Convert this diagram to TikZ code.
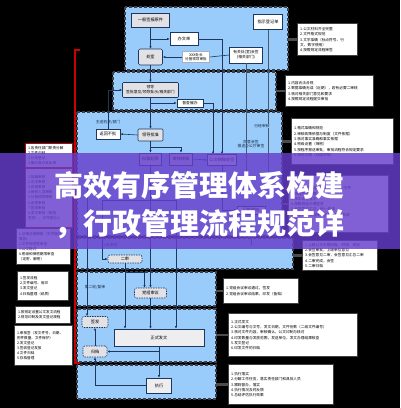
\documentclass[tikz,border=0pt]{standalone}
\usepackage{fontspec}
\newfontfamily\cjk{Noto Sans CJK SC}
\usetikzlibrary{arrows.meta,calc}
\definecolor{pblue}{RGB}{153,204,250}
\definecolor{pedge}{RGB}{58,64,76}
\definecolor{navy}{RGB}{30,55,95}
\definecolor{gfill}{RGB}{226,226,230}
\definecolor{band}{RGB}{102,62,204}
\begin{document}
\begin{tikzpicture}[x=1pt,y=-1pt,
 panel/.style={fill=pblue,draw=pedge,dash pattern=on 3pt off 2pt,line width=1.4pt},
 gbox/.style={draw=navy,fill=gfill,line width=0.6pt,inner sep=0.5pt,align=center,font=\cjk\fontsize{4.2}{5.2}\selectfont},
 wbox/.style={gbox,fill=white},
 rbox/.style={gbox,rounded corners=2pt,dash pattern=on 1.5pt off 1pt},
 lab/.style={inner sep=0.5pt,align=center,font=\cjk\fontsize{3.8}{4.8}\selectfont,text=navy!70!black},
 note/.style={draw=black!75,fill=white,line width=1.4pt,anchor=north west,align=left,inner sep=2.5pt,font=\cjk\fontsize{3.7}{5.3}\selectfont},
 lnote/.style={note,line width=1pt,font=\cjk\fontsize{3.6}{5.1}\selectfont},
 ln/.style={draw=navy,line width=0.6pt},
 arr/.style={ln,-{Latex[length=2.5pt,width=2.2pt]}},
 gl/.style={draw=navy!55!gray,line width=0.5pt},
 link/.style={draw=black!70,line width=2.5pt},
 banner/.style={text=white,inner sep=0,font=\cjk\bfseries\fontsize{29}{29}\selectfont},
]
\useasboundingbox (0,0) rectangle (400,408);
\fill[black] (0,0) rectangle (400,408);

% panels
\draw[panel] (125,7) rectangle (288,70);
\draw[panel] (113,72) rectangle (276,110);
\draw[panel] (77,112) rectangle (282,236);
\draw[panel] (77,238) rectangle (293,269);
\draw[panel] (77,272) rectangle (216,306);
\draw[panel] (77,309) rectangle (216,362);
\draw[panel] (77,365) rectangle (216,399);

% red line
\draw[red!80!black,line width=1.8pt] (80,50) -- (75,50) -- (75,363) -- (80,363);

% panel 1
\node[gbox,minimum width=38pt,minimum height=14pt] (ybqb) at (150.5,20) {一般签报原件};
\node[wbox,minimum width=28pt,minimum height=13pt] (bwd) at (184,39) {办文单};
\node[gbox,rounded corners=1.5pt,minimum width=24pt,minimum height=16pt] (cs) at (150.5,57) {处室};
\node[wbox,draw=navy!40,minimum width=27pt,minimum height=11pt,font=\cjk\fontsize{3.6}{4.4}\selectfont] (sp) at (196,57) {XXX处长\\分管领导审批};
\node[wbox,minimum width=33pt,minimum height=16pt,font=\cjk\fontsize{3.8}{4.8}\selectfont] (ygc) at (246,55) {有关处(室)会签\\(相关部门)};
\node[wbox,minimum width=29pt,minimum height=15pt] (zs) at (268,22) {指示登记单};

% panel 2
\node[gbox,rounded corners=1pt,minimum width=56pt,minimum height=15pt,font=\cjk\fontsize{3.8}{4.8}\selectfont] (ld) at (150.5,90) {领导\\签批意见/领导批示/相关部门};
\node[wbox,minimum width=26pt,minimum height=8pt,font=\cjk\fontsize{3.8}{4.6}\selectfont] (dc) at (190,103) {督查催办};

% panel 3
\node[lab] (zsjg) at (108,122) {主送机关/部门};
\node[wbox,minimum width=24pt,minimum height=10pt] (fh) at (108,134) {返回不批};
\node[gbox,rounded corners=1pt,minimum width=25pt,minimum height=12pt] (ldpz) at (150.5,135) {领导批准};
\node[gbox,minimum width=22pt,minimum height=12pt] (ng) at (150.5,159) {拟稿起草};
\node[gbox,minimum width=23pt,minimum height=12pt] (sh) at (181,159) {审核核稿};
\node[wbox,minimum width=29pt,minimum height=11pt] (hq) at (222,160) {公文核稿会签};
\node[lab] (tyhq) at (251,144) {同意会签\\报送办公厅审签};
\node[wbox,minimum width=28pt,minimum height=8pt] (yz) at (251,210) {印制审核};

% panel 4
\node[lab] (sjdw) at (110,245) {上级单位};
\node[rbox,minimum width=34pt,minimum height=8pt] (es) at (125,259) {二审};

% panel 5
\node[lab] (del) at (95,287) {第二轮/复审};
\node[rbox,minimum width=32pt,minimum height=10pt] (dz) at (150.5,293) {党组审议};

% panel 6
\node[rbox,minimum width=26pt,minimum height=11pt] (qf) at (95,322) {签发};
\node[gbox,fill=gfill!60,minimum width=90pt,minimum height=17pt] (zsfw) at (159,337.5) {正式发文};
\node[rbox,minimum width=24pt,minimum height=11pt] (gd) at (95,351.5) {归档};

% panel 7
\node[gbox,fill=gfill!60,minimum width=25pt,minimum height=15pt] (zx) at (159,385.5) {执行};

% connectors
\draw[arr] (ybqb) -- (cs);
\coordinate (c1) at (150.5,39);
\draw[arr] (c1) -- (bwd.west);
\draw[arr] (sp.west) -- (cs.east);
\draw[ln] (ygc.west) -- (sp.east);
\draw[arr] (cs) -- (ld);
\draw[arr] (ld) -- (ldpz);
\coordinate (c2) at (150.5,103);
\draw[arr] (c2) -- (dc.west);
\draw[arr] (fh.north) |- (ld.west);
\draw[arr] (ldpz.west) -- (fh.east);
\draw[arr] (ldpz) -- (ng);
\coordinate (c3) at (150.5,147);
\draw[arr] (c3) -| (sh.north);
\draw[arr] (sh.east) -- (hq.west);
\draw[arr] (bwd.east) -| (hq.north);
\draw[arr] (dc.east) -| ([xshift=-9pt]hq.north);
\coordinate (z1) at (268,172);
\draw[gl] (zs.south) -- (z1);
\node[lab,fill=pblue] (yjsh) at (262,126) {已经审核};
\coordinate (z2) at (246,172);
\draw[gl] (ygc.south) -- (z2);
\draw[arr] (hq.south) |- (yz.west);
\coordinate (z3) at (251,245);
\draw[gl] (yz.south) -- (z3);

\coordinate (h1) at (102,200);
\coordinate (h2) at (176,200);
\coordinate (a1) at (87,175);
\draw[ln] (ng.south) -- (ng.south |- h1);
\draw[ln] (h1) -- (h2);
\draw[arr] (h1) |- (es.west);
\draw[arr] (a1) -- (a1 |- qf.north);
\draw[arr] (es.south) -- (es.south |- zsfw.north);
\draw[arr] ($(es.south)+(0,9)$) -| ([xshift=-6pt]dz.north);
\draw[arr] (ng.south |- h1) -- (dz.north);
\draw[arr] (dz.south) -- (dz.south |- zsfw.north);
\draw[arr] (h2) -- (h2 |- zsfw.north);
\draw[arr] (gd.north) -- (qf.south);
\draw[arr] (zsfw.south) |- (gd.east);
\draw[arr] (zsfw.south) -- (zx.north);
\draw[arr] (zx.west) -| (gd.south);

% right notes
\node[note,text width=55pt,minimum height=32pt] (r1) at (297,23) {1.公文材料齐全完整\\2.文件格式规范\\3.文字准确（标点符号、行\\文、数字使用）\\4.按照规定流程审签};
\node[note,text width=83pt,minimum height=31pt] (r2) at (285,75) {1.内容合法合规\\2.数据准确无误（近期），若有必要二审核\\3.核对相关部门意见和要求\\4.按照规定流程提交审批};
\node[note,text width=97pt,minimum height=46pt] (r3) at (291,118) {1.格式准确和规范\\2.审核政策依据与制度（文件依据）\\3.核对事实准确和事实依据\\4.密级设置（保密）\\5.按程序报送审批，审批流程符合规定要求\\6.按时办理（办结时限）};
\node[note,text width=95pt,minimum height=57pt] (r4) at (288,175) {1.审核文件内容与格式，不行为/文件\\2.核对发文范围\\3.核实会签意见\\4.按照规定办理签发\\5.会签意见汇总，统一修改\\6.按照规定流程审核签发，确保各部\\门意见落实};
\node[note,text width=70pt,minimum height=28pt] (r5) at (302,240) {1.上级公文办理流程，时限，规定\\2.会签审批，上级单位意见\\3.会签意见二审，会签意见汇总二审\\4.二审完成，会签\\5.二审归档};
\node[note,text width=70pt,minimum height=25pt] (r6) at (223,278) {1.党组会议审议通过，签发\\2.党组会议审议结果，印发（备档）};
\node[note,text width=124pt,minimum height=43pt] (r7) at (228,313) {1.正式发文\\2.公文编号与文号，发文日期，文件份数（二级文件编号）\\3.核对文件内容，审核确认，公文印制与核对\\4.印发数量与发放范围，发送单位，发文办理结果核查\\5.发文登记\\6.印发文件的归档};
\node[note,text width=100pt,minimum height=40pt] (r8) at (228,364) {1.执行落实\\2.分解工作任务，落实责任部门和具体人员\\3.跟踪督办，落实\\4.执行情况及时反馈\\5.总结评估执行效果};

\draw[link] (r1.west) -- ++(-9,0);
\draw[link] (r2.west) -- ++(-9,0);
\draw[link] (r3.west) -- ++(-9,0);
\draw[link] (r4.west) -- ++(-6,0);
\draw[link] (r5.west) -- ++(-9,0);
\draw[link] (r6.west) -- ++(-7,0);
\draw[link] (r7.west) -- ++(-12,0);
\draw[link] (r8.west) -- ++(-12,0);

% left notes
\node[lnote,draw=red!75!black,text width=42pt,minimum height=22pt] (l1a) at (25,143) {1.各责任部门职责分解\\2.文件归档\\3.分发登记\\4.催办督办及反馈};
\node[lnote,draw=red!75!black,text width=42pt,minimum height=59pt,anchor=north west] (l1b) at (l1a.south west) {1.拟稿审核\\2.文字审核\\3.合规审核\\4.保密人员审核\\5.分管领导审核\\6.会签审核\\7.签发审核\\8.发文审核（审批\\签发），文件登记入};
\node[lnote,text width=49pt,minimum height=36pt] (l2) at (16,228) {1.法律法规审核（文件提交\\报告）\\2.文件规范性审查\\3.公文格式\\4.密级和保密期限审查\\（定密、解密）};
\node[lnote,text width=46pt,minimum height=29pt] (l3) at (17,271) {1.签发流程\\2.文件编号、用印\\3.发文登记\\4.归档整理（纸质）};
\node[lnote,text width=50pt,minimum height=17pt] (l4) at (15,306) {1.按规定设置公文发文流程\\2.规范印制及发文登记规程};
\node[lnote,text width=53pt,minimum height=40pt] (l5) at (14,325) {1.审核签（发文件号、日期、\\附件数量、文件保护）\\2.发文登记\\3.签收登记发放\\4.文件归档\\5.存档管理};

% banner
\fill[band,opacity=0.82] (0,153) rectangle (400,249);
\node[banner] (t1) at (200,185) {高效有序管理体系构建};
\node[banner] (t2) at (200,224) {，行政管理流程规范详};
\end{tikzpicture}
\end{document}
